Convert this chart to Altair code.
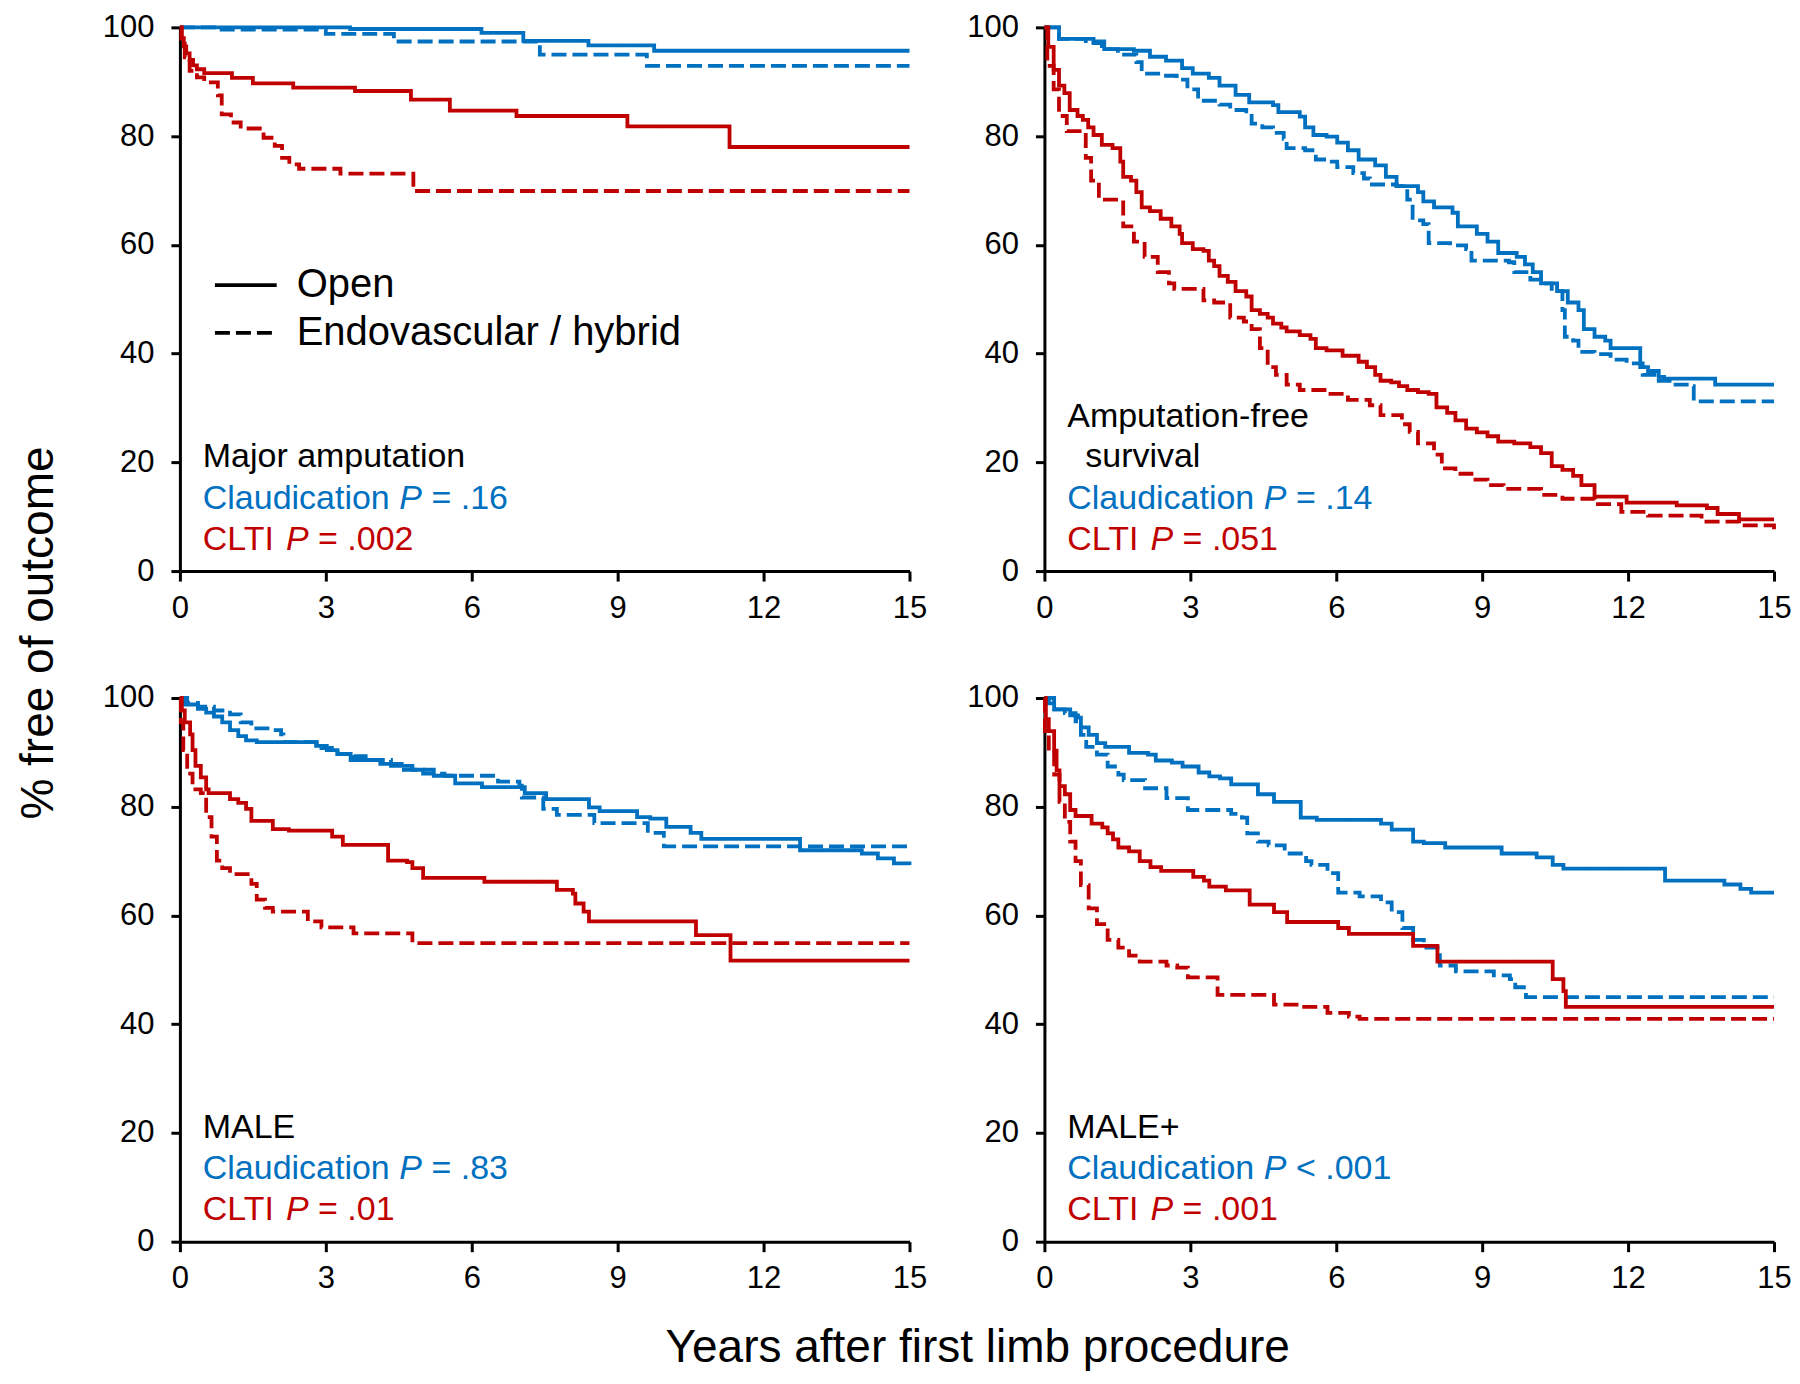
import altair as alt
import pandas as pd

FONT = "Liberation Sans"
BLUE = "#0070C0"
RED = "#C00000"
W, H = 730, 544
LW = 3.8
DASH_LINE = [15, 6]
DASH_LEGEND = [12, 5]

x_ticks = [0, 3, 6, 9, 12, 15]
y_ticks = [0, 20, 40, 60, 80, 100]
groups = ["Claudication", "CLTI"]
procs = ["Open", "Endovascular / hybrid"]

# ---------------- Major amputation ----------------
ma_claud_open_t = [0, 3.5, 6.2, 7.06, 8.4, 9.75, 15]
ma_claud_open_v = [100, 99.7, 99.0, 97.5, 96.7, 95.7, 95.7]
ma_claud_endo_t = [0, 0.8, 3.0, 4.4, 7.4, 9.6, 15]
ma_claud_endo_v = [100, 99.6, 98.8, 97.4, 95.0, 92.9, 92.9]
ma_clti_open_t = [0, 0.03, 0.08, 0.13, 0.2, 0.27, 0.35, 0.5, 1.07, 1.5, 2.33, 3.6, 4.75, 5.55, 6.92, 9.2, 11.3, 15]
ma_clti_open_v = [100, 98.0, 96.5, 95.2, 94.0, 93.0, 92.3, 91.6, 90.7, 89.7, 88.9, 88.3, 86.7, 84.7, 83.7, 81.8, 78.0, 78.0]
ma_clti_endo_t = [0, 0.04, 0.1, 0.2, 0.35, 0.5, 0.78, 0.86, 1.05, 1.25, 1.72, 1.95, 2.1, 2.25, 2.45, 3.3, 4.8, 15]
ma_clti_endo_v = [100, 97.0, 94.5, 92.0, 90.8, 89.9, 87.5, 84.0, 82.5, 81.4, 79.7, 78.2, 76.0, 74.8, 74.0, 73.1, 69.9, 69.9]

# ---------------- Amputation-free survival ----------------
afs_claud_open_t = [0, 0.30, 1.01, 1.23, 1.84, 2.17, 2.50, 2.83, 3.05, 3.38, 3.60, 3.93, 4.21, 4.70, 4.81, 5.25, 5.36, 5.53,
                    5.80, 6.02, 6.24, 6.46, 6.80, 7.02, 7.24, 7.68, 7.79, 8.01, 8.39, 8.50, 8.89, 9.11, 9.33, 9.71, 9.88,
                    10.04, 10.21, 10.54, 10.76, 10.98, 11.09, 11.31, 11.53, 11.64, 12.25, 12.41, 12.63, 12.74, 13.79, 15]
afs_claud_open_v = [100, 97.9, 97.4, 96.0, 95.7, 94.6, 93.9, 92.5, 91.5, 90.7, 89.3, 87.6, 86.2, 85.7, 84.4, 83.6, 81.6, 80.2,
                    79.9, 78.8, 77.4, 75.7, 74.6, 72.5, 70.8, 69.7, 68.0, 66.9, 65.9, 63.4, 62.0, 60.6, 58.5, 57.8, 56.4,
                    55.0, 52.9, 51.5, 49.4, 48.0, 44.5, 43.1, 42.4, 41.0, 37.5, 36.8, 35.7, 35.4, 34.3, 34.3]
afs_claud_endo_t = [0, 0.30, 0.85, 1.18, 1.51, 1.89, 2.00, 2.50, 2.72, 2.94, 3.16, 3.60, 3.82, 4.15, 4.26, 4.48, 4.70, 4.92,
                    4.98, 5.36, 5.58, 5.80, 6.02, 6.35, 6.57, 6.69, 7.24, 7.46, 7.57, 7.79, 7.90, 8.34, 8.67, 8.78, 9.55,
                    9.66, 9.99, 10.21, 10.43, 10.65, 10.70, 10.87, 10.98, 11.31, 11.64, 11.97, 12.30, 12.63, 12.91, 13.29,
                    13.35, 15]
afs_claud_endo_v = [100, 97.9, 97.1, 96.0, 95.0, 93.6, 91.5, 91.1, 90.4, 88.6, 86.5, 85.8, 84.8, 84.1, 82.3, 81.6, 80.6, 79.5,
                    77.8, 77.4, 75.7, 75.3, 74.3, 73.2, 72.2, 71.1, 70.8, 68.3, 64.5, 63.8, 60.3, 59.9, 59.2, 57.1, 56.8,
                    55.0, 53.6, 52.9, 51.5, 48.0, 43.1, 42.4, 40.3, 39.9, 38.9, 38.2, 36.1, 35.0, 34.3, 34.0,
                    31.2, 31.2]
afs_clti_open_t = [0, 0.08, 0.19, 0.30, 0.41, 0.52, 0.68, 0.79, 0.90, 1.01, 1.18, 1.40, 1.56, 1.62, 1.78, 1.89, 2.00, 2.17,
                   2.39, 2.61, 2.78, 2.83, 3.05, 3.27, 3.38, 3.49, 3.60, 3.77, 3.93, 4.15, 4.26, 4.43, 4.59, 4.70, 4.87,
                   4.98, 5.25, 5.47, 5.58, 5.80, 6.13, 6.46, 6.63, 6.80, 6.91, 7.13, 7.29, 7.46, 7.68, 7.90, 8.06, 8.28,
                   8.45, 8.67, 8.89, 9.11, 9.33, 9.66, 9.99, 10.21, 10.43, 10.65, 10.87, 11.04, 11.31, 11.97, 13.0, 13.62,
                   13.84, 14.28, 15]
afs_clti_open_v = [100, 96.4, 92.2, 89.3, 87.9, 84.8, 83.7, 83.0, 81.6, 80.2, 78.4, 77.8, 75.3, 72.5, 71.8, 69.7, 66.9, 66.2,
                   64.8, 63.4, 62.0, 60.3, 59.2, 58.9, 57.1, 56.1, 54.3, 53.2, 51.5, 50.5, 48.0, 47.3, 46.6, 45.5, 44.8,
                   44.1, 43.4, 42.7, 41.0, 40.6, 39.6, 38.5, 37.5, 36.1, 35.0, 34.7, 34.0, 33.3, 32.9, 32.6, 30.1, 29.1,
                   27.7, 26.2, 25.5, 24.8, 23.8, 23.5, 22.8, 21.7, 19.3, 18.6, 17.5, 15.8, 13.7, 12.6, 12.1, 11.6,
                   10.5, 9.5, 9.5]
afs_clti_endo_t = [0, 0.06, 0.19, 0.30, 0.46, 0.85, 0.96, 1.12, 1.62, 1.84, 2.06, 2.33, 2.56, 2.67, 3.27, 3.49, 3.82, 4.10,
                   4.26, 4.43, 4.59, 4.76, 4.98, 5.25, 5.80, 6.24, 6.69, 6.91, 7.35, 7.51, 7.68, 8.01, 8.17, 8.45, 8.78,
                   9.11, 9.44, 10.21, 10.65, 11.31, 11.86, 12.41, 13.51, 14.28, 15]
afs_clti_endo_v = [100, 92.9, 88.6, 83.7, 80.9, 76.0, 71.8, 68.3, 63.4, 60.6, 57.8, 55.0, 52.9, 51.9, 49.8, 49.4, 46.6, 45.9,
                   44.5, 41.0, 37.5, 36.1, 34.3, 33.3, 32.6, 31.5, 30.5, 28.7, 27.0, 25.6, 23.5, 21.4, 18.9, 17.9, 16.8,
                   15.8, 15.1, 14.0, 13.3, 12.3, 10.9, 10.2, 9.1, 8.4, 7.7]

# ---------------- MALE ----------------
male_claud_open_t = [0, 0.10, 0.37, 0.54, 0.70, 0.87, 1.03, 1.20, 1.36, 1.58, 2.80, 3.02, 3.24, 3.51, 4.12, 4.34, 4.78,
                     5.22, 5.66, 6.21, 7.09, 7.53, 8.41, 8.63, 9.40, 9.67, 10.00, 10.50, 10.72, 12.75, 14.02, 14.35, 14.68, 15]
male_claud_open_v = [100, 98.8, 98.0, 97.3, 96.6, 95.5, 94.1, 93.0, 92.2, 91.9, 91.2, 90.4, 89.7, 88.6, 87.9, 87.5, 86.8,
                     85.7, 84.3, 83.6, 82.5, 81.4, 79.9, 79.2, 78.1, 77.8, 76.3, 75.2, 74.1, 72.0, 71.4, 70.5, 69.6, 69.3]
male_claud_endo_t = [0, 0.15, 0.37, 0.70, 1.03, 1.25, 1.47, 1.91, 2.08, 2.13, 2.91, 3.24, 3.57, 3.90, 4.34, 4.56, 5.00,
                     5.44, 6.54, 6.98, 7.03, 7.47, 7.75, 8.52, 9.62, 9.95, 15]
male_claud_endo_v = [100, 99.1, 98.4, 97.7, 97.0, 95.5, 94.4, 94.1, 93.3, 91.9, 90.8, 89.7, 89.3, 88.6, 87.9, 86.8, 86.1,
                     85.7, 84.6, 83.9, 81.7, 79.6, 78.5, 77.0, 75.2, 72.7, 72.7]
male_clti_open_t = [0, 0.04, 0.10, 0.21, 0.26, 0.32, 0.43, 0.54, 0.59, 1.03, 1.20, 1.36, 1.47, 1.91, 2.24, 3.13, 3.35,
                    4.28, 4.67, 4.78, 5.00, 6.26, 7.75, 8.08, 8.13, 8.30, 8.41, 10.61, 11.32, 15]
male_clti_open_v = [100, 97.7, 95.5, 93.3, 90.4, 87.5, 85.4, 83.2, 82.5, 81.4, 80.7, 79.6, 77.4, 75.9, 75.6, 74.5, 73.0,
                    70.1, 69.8, 68.7, 66.9, 66.2, 64.7, 64.0, 62.2, 60.7, 58.9, 56.4, 51.7, 51.7]
male_clti_endo_t = [0, 0.02, 0.07, 0.15, 0.26, 0.43, 0.54, 0.65, 0.76, 0.87, 1.03, 1.47, 1.58, 1.75, 1.91, 2.63, 2.91,
                    3.57, 4.78, 15]
male_clti_endo_v = [100, 95.5, 90.4, 86.1, 83.2, 82.5, 78.1, 74.5, 70.1, 68.7, 67.6, 65.8, 62.9, 61.4, 60.7, 58.9, 57.8,
                    56.7, 54.9, 54.9]

# ---------------- MALE+ ----------------
mp_claud_open_t = [0, 0.09, 0.20, 0.53, 0.69, 0.75, 0.91, 1.08, 1.25, 1.74, 2.13, 2.29, 2.62, 2.84, 3.17, 3.39, 3.61, 3.84,
                   4.39, 4.72, 5.27, 5.60, 6.92, 7.14, 7.58, 7.80, 8.24, 9.40, 10.12, 10.45, 10.67, 12.76, 13.98, 14.31,
                   14.53, 15]
mp_claud_open_v = [100, 99.0, 97.9, 96.8, 96.4, 94.6, 93.2, 91.7, 91.0, 89.9, 89.6, 88.5, 88.1, 87.4, 86.3, 85.6, 85.2, 84.1,
                   82.3, 80.9, 78.0, 77.6, 76.9, 75.8, 73.6, 73.3, 72.5, 71.4, 70.7, 69.3, 68.6, 66.4, 65.7, 64.9,
                   64.2, 64.2]
mp_claud_endo_t = [0, 0.20, 0.42, 0.64, 0.75, 0.86, 1.08, 1.30, 1.52, 1.63, 2.07, 2.51, 2.95, 3.84, 4.06, 4.17, 4.39, 4.61,
                   4.94, 5.38, 5.49, 5.82, 6.04, 6.48, 6.92, 7.14, 7.36, 7.58, 7.80, 8.13, 8.46, 9.24, 9.57, 9.68, 9.90, 15]
mp_claud_endo_v = [100, 97.9, 97.2, 95.7, 93.2, 91.0, 89.6, 87.4, 85.9, 84.9, 83.4, 81.6, 79.4, 78.7, 78.0, 75.1, 73.6, 72.9,
                   71.4, 70.0, 69.3, 67.8, 64.2, 63.5, 62.4, 60.6, 57.7, 55.5, 54.1, 50.8, 49.7, 49.0, 48.3, 46.8, 45.0, 45.0]
mp_clti_open_t = [0, 0.03, 0.09, 0.20, 0.25, 0.31, 0.42, 0.53, 0.64, 0.97, 1.19, 1.30, 1.41, 1.52, 1.74, 1.96, 2.18, 2.40,
                  3.06, 3.28, 3.39, 3.73, 4.22, 4.72, 4.99, 6.04, 6.26, 7.58, 8.08, 10.45, 10.67, 10.72, 15]
mp_clti_open_v = [100, 96.1, 93.9, 90.3, 86.7, 83.8, 82.3, 79.4, 78.3, 76.9, 76.2, 75.1, 74.0, 72.5, 71.8, 70.0, 68.9, 68.2,
                  67.1, 66.4, 65.3, 64.6, 62.0, 60.6, 58.8, 57.7, 56.6, 54.4, 51.5, 48.3, 46.1, 43.2, 43.2]
mp_clti_endo_t = [0, 0.01, 0.09, 0.20, 0.31, 0.42, 0.53, 0.64, 0.75, 0.91, 1.08, 1.30, 1.52, 1.74, 1.96, 2.51, 2.73, 2.95,
                  3.56, 4.72, 5.27, 5.82, 6.26, 6.48, 15]
mp_clti_endo_v = [100, 93.9, 90.3, 85.9, 80.9, 77.2, 73.6, 70.0, 65.6, 61.3, 58.4, 55.5, 54.1, 52.6, 51.5, 50.8, 50.4, 48.6,
                  45.4, 43.6, 43.2, 42.1, 41.4, 41.0, 41.0]

# ---------------- text ----------------
panel_titles = [["Major amputation"], ["Amputation-free", "survival"], ["MALE"], ["MALE+"]]
claud_p = ["= .16", "= .14", "= .83", "< .001"]
clti_p = ["= .002", "= .051", "= .01", "= .001"]

X_SCALE = alt.Scale(domain=[0, 15], nice=False, zero=False)
Y_SCALE = alt.Scale(domain=[0, 100], nice=False)
x_axis = alt.Axis(values=x_ticks, title=None, grid=False, labelFontSize=31, labelFont=FONT, labelColor="black",
                  labelPadding=12, labelFlush=False, labelOverlap=False, domainColor="black", domainWidth=3,
                  tickColor="black", tickWidth=3, tickSize=10, format="d")
y_axis = alt.Axis(values=y_ticks, title=None, grid=False, labelFontSize=31, labelFont=FONT, labelColor="black",
                  labelPadding=17, labelFlush=False, labelOverlap=False, domainColor="black", domainWidth=3,
                  tickColor="black", tickWidth=3, tickSize=9, format="d")
X = alt.X("t:Q", scale=X_SCALE, axis=x_axis)
Y = alt.Y("v:Q", scale=Y_SCALE, axis=y_axis)

ANN = 34
TX = 0.47


def curves_df(curves):
    frames = []
    for t, v, grp, proc in curves:
        assert len(t) == len(v), (grp, proc, len(t), len(v))
        frames.append(pd.DataFrame({"t": t, "v": v, "group": grp, "proc": proc, "series": grp + "|" + proc}))
    return pd.concat(frames, ignore_index=True)


def text_layer(rows, size=ANN, dx=0, style="normal"):
    df = pd.DataFrame(rows, columns=["t", "v", "label", "col"])
    return alt.Chart(df).mark_text(align="left", baseline="middle", font=FONT, fontSize=size, dx=dx,
                                   fontStyle=style).encode(
        x=X, y=Y, text="label:N", color=alt.Color("col:N", scale=None))


def panel(curves, titles, cp, tp, legend=False):
    df = curves_df(curves)
    lines = alt.Chart(df).mark_line(interpolate="step-after", strokeWidth=LW).encode(
        x=X, y=Y,
        color=alt.Color("group:N", scale=alt.Scale(domain=groups, range=[BLUE, RED]), legend=None),
        strokeDash=alt.StrokeDash("proc:N", scale=alt.Scale(domain=procs, range=[[1, 0], DASH_LINE]), legend=None),
        detail="series:N",
    )
    ys_title = [20.9] if len(titles) == 1 else [28.4, 20.9]
    xs_title = [TX] if len(titles) == 1 else [TX, 0.84]
    rows = [(xs_title[i], ys_title[i], titles[i], "black") for i in range(len(titles))]
    rows += [(TX, 13.3, "Claudication", BLUE), (TX, 5.8, "CLTI", RED)]
    layers = [lines, text_layer(rows)]
    layers.append(text_layer([(TX, 13.3, "P", BLUE)], dx=196.6, style="italic"))
    layers.append(text_layer([(TX, 5.8, "P", RED)], dx=83.2, style="italic"))
    layers.append(text_layer([(TX, 13.3, cp, BLUE)], dx=228.8))
    layers.append(text_layer([(TX, 5.8, tp, RED)], dx=115.4))
    if legend:
        for yv, proc in [(52.6, procs[0]), (43.8, procs[1])]:
            ldf = pd.DataFrame({"t": [0.72], "t2": [1.99], "v": [yv], "proc": [proc]})
            layers.append(alt.Chart(ldf).mark_rule(strokeWidth=LW, color="black").encode(
                x=X, x2="t2:Q", y=Y,
                strokeDash=alt.StrokeDash("proc:N", scale=alt.Scale(domain=procs, range=[[1, 0], DASH_LEGEND]),
                                          legend=None)))
        layers.append(text_layer([(2.4, 52.6, procs[0], "black"), (2.4, 43.8, procs[1], "black")], size=40))
    return alt.layer(*layers).properties(width=W, height=H)


p1 = panel([(ma_claud_open_t, ma_claud_open_v, "Claudication", procs[0]),
            (ma_claud_endo_t, ma_claud_endo_v, "Claudication", procs[1]),
            (ma_clti_open_t, ma_clti_open_v, "CLTI", procs[0]),
            (ma_clti_endo_t, ma_clti_endo_v, "CLTI", procs[1])], panel_titles[0], claud_p[0], clti_p[0], legend=True)
p2 = panel([(afs_claud_open_t, afs_claud_open_v, "Claudication", procs[0]),
            (afs_claud_endo_t, afs_claud_endo_v, "Claudication", procs[1]),
            (afs_clti_open_t, afs_clti_open_v, "CLTI", procs[0]),
            (afs_clti_endo_t, afs_clti_endo_v, "CLTI", procs[1])], panel_titles[1], claud_p[1], clti_p[1])
p3 = panel([(male_claud_open_t, male_claud_open_v, "Claudication", procs[0]),
            (male_claud_endo_t, male_claud_endo_v, "Claudication", procs[1]),
            (male_clti_open_t, male_clti_open_v, "CLTI", procs[0]),
            (male_clti_endo_t, male_clti_endo_v, "CLTI", procs[1])], panel_titles[2], claud_p[2], clti_p[2])
p4 = panel([(mp_claud_open_t, mp_claud_open_v, "Claudication", procs[0]),
            (mp_claud_endo_t, mp_claud_endo_v, "Claudication", procs[1]),
            (mp_clti_open_t, mp_clti_open_v, "CLTI", procs[0]),
            (mp_clti_endo_t, mp_clti_endo_v, "CLTI", procs[1])], panel_titles[3], claud_p[3], clti_p[3])

row1 = alt.hconcat(p1, p2, spacing=39)
row2 = alt.hconcat(p3, p4, spacing=39)
grid = alt.vconcat(row1, row2, spacing=59).properties(
    title=alt.TitleParams("Years after first limb procedure", orient="bottom", anchor="middle", fontSize=46,
                          font=FONT, fontWeight="normal", color="black", offset=32, dx=31))
chart = alt.hconcat(grid).properties(
    title=alt.TitleParams("% free of outcome", orient="left", anchor="middle", fontSize=46, font=FONT,
                          fontWeight="normal", color="black", offset=39, dx=58),
    padding={"top": 3, "left": 8, "right": 0, "bottom": 0},
).configure_view(stroke=None)

chart.save("out.html", embed_options={"renderer": "svg", "actions": False})
